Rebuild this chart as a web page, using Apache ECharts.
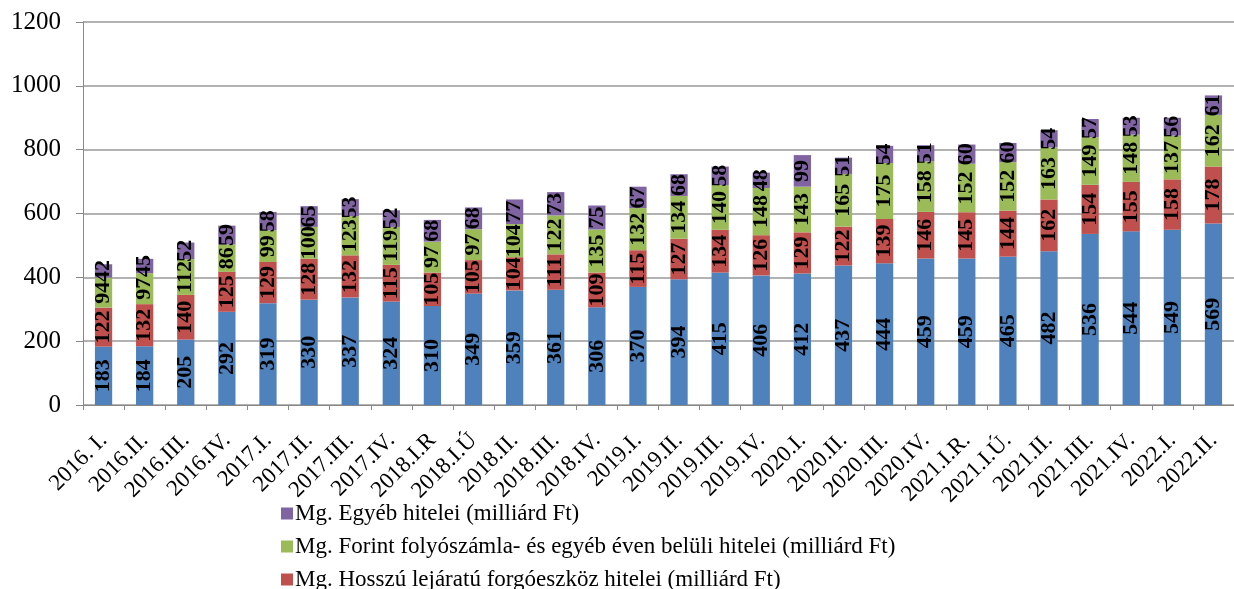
<!DOCTYPE html>
<html>
<head>
<meta charset="utf-8">
<script src="https://cdn.jsdelivr.net/npm/echarts@6/dist/echarts.min.js"></script>
<style>
html, body { margin: 0; padding: 0; background: #fff; }
#main { width: 1234px; height: 589px; }
</style>
</head>
<body>
<div id="main"></div>
<script>
var categories = ['2016. I.', '2016.II.', '2016.III.', '2016.IV.', '2017.I.', '2017.II.', '2017.III.', '2017.IV.',
    '2018.I.R', '2018.I.Ú', '2018.II.', '2018.III.', '2018.IV.', '2019.I.', '2019.II.', '2019.III.', '2019.IV.',
    '2020.I.', '2020.II.', '2020.III.', '2020.IV.', '2021.I.R.', '2021.I.Ú.', '2021.II.', '2021.III.', '2021.IV.',
    '2022.I.', '2022.II.'];

var beruhazasi = [183, 184, 205, 292, 319, 330, 337, 324, 310, 349, 359, 361, 306, 370, 394, 415, 406,
    412, 437, 444, 459, 459, 465, 482, 536, 544, 549, 569];
var hosszu = [122, 132, 140, 125, 129, 128, 132, 115, 105, 105, 104, 111, 109, 115, 127, 134, 126,
    129, 122, 139, 146, 145, 144, 162, 154, 155, 158, 178];
var forint = [94, 97, 112, 86, 99, 100, 123, 119, 97, 97, 104, 122, 135, 132, 134, 140, 148,
    143, 165, 175, 158, 152, 152, 163, 149, 148, 137, 162];
var egyeb = [42, 45, 52, 59, 58, 65, 53, 52, 68, 68, 77, 73, 75, 67, 68, 58, 48,
    99, 51, 54, 51, 60, 60, 54, 57, 53, 56, 61];

var names = [
    'Mg. Beruházási hitelei (milliárd Ft)',
    'Mg. Hosszú lejáratú forgóeszköz hitelei (milliárd Ft)',
    'Mg. Forint folyószámla- és egyéb éven belüli hitelei (milliárd Ft)',
    'Mg. Egyéb hitelei (milliárd Ft)'
];
var colors = ['#4F81BD', '#C0504D', '#9BBB59', '#8064A2'];

var myChart = echarts.init(document.getElementById('main'));
var serif = '"Liberation Serif", "Times New Roman", serif';

function mkSeries(i, data) {
    return {
        name: names[i],
        type: 'bar',
        stack: 'total',
        barWidth: '42%',
        data: data,
        itemStyle: { color: colors[i] },
        label: {
            show: true,
            position: 'inside',
            rotate: 90,
            color: '#000',
            fontFamily: serif,
            fontWeight: 'bold',
            fontSize: 22
        }
    };
}

var option = {
    animation: false,
    textStyle: { fontFamily: serif },
    grid: { left: 83, right: -9, top: 22, bottom: 184, containLabel: false },
    legend: {
        orient: 'vertical',
        left: 276,
        top: 497,
        height: 300,
        itemWidth: 12,
        itemHeight: 12,
        itemGap: 10,
        icon: 'rect',
        data: [names[3], names[2], names[1]],
        textStyle: { fontFamily: serif, fontSize: 23, color: '#000', padding: [0, 0, 0, -3] }
    },
    xAxis: {
        type: 'category',
        data: categories,
        axisLine: { lineStyle: { color: '#888' } },
        axisTick: { show: true, lineStyle: { color: '#888' }, length: 5 },
        axisLabel: {
            rotate: 45,
            interval: 0,
            color: '#000',
            fontFamily: serif,
            fontSize: 23,
            margin: 32
        }
    },
    yAxis: {
        type: 'value',
        min: 0,
        max: 1200,
        interval: 200,
        axisLine: { show: true, lineStyle: { color: '#888' } },
        axisTick: { show: true, lineStyle: { color: '#888' }, length: 7 },
        splitLine: { lineStyle: { color: '#999', width: 1.5 } },
        axisLabel: {
            color: '#000', fontFamily: serif, fontSize: 25, margin: 22,
            formatter: function (v) { return String(v); }
        }
    },
    series: [
        mkSeries(0, beruhazasi),
        mkSeries(1, hosszu),
        mkSeries(2, forint),
        mkSeries(3, egyeb)
    ]
};

myChart.setOption(option);
</script>
</body>
</html>
